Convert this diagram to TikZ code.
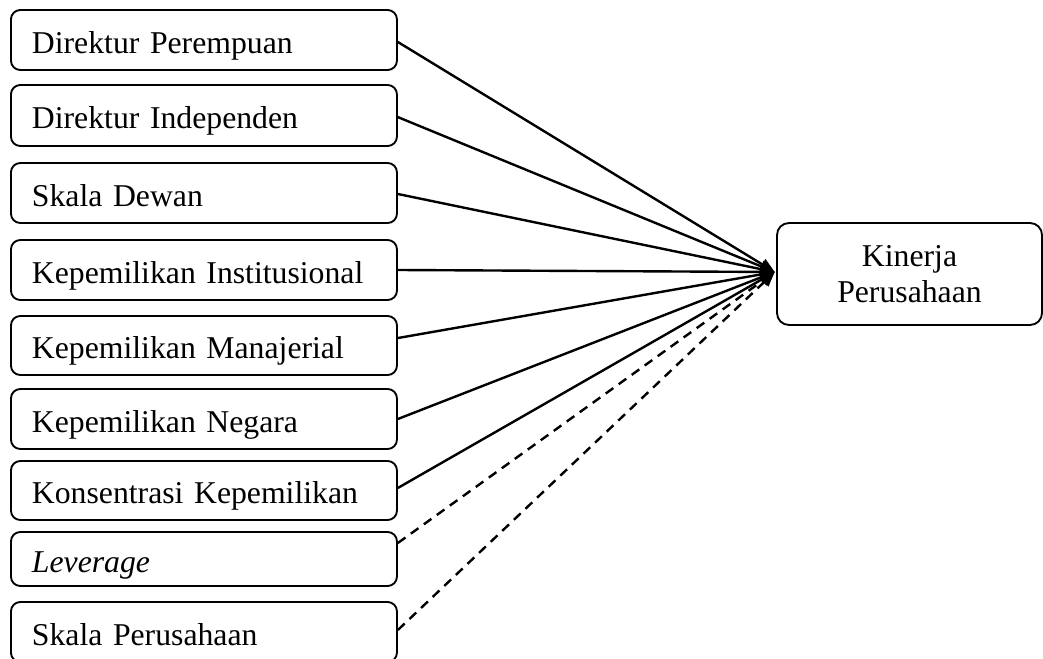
\documentclass[tikz,border=0pt]{standalone}
\usepackage{fontspec}
\setmainfont{Liberation Serif}
\usetikzlibrary{arrows.meta}
\begin{document}
\begin{tikzpicture}[x=0.75pt,y=-0.75pt,
  fnt/.style={font=\fontsize{23.8pt}{27.5pt}\selectfont},
  varbox/.style={draw,line width=1.4pt,rounded corners=7pt,fnt,anchor=west,
    inner xsep=15.75pt,inner ysep=0pt,text width=258pt,align=left,
    text height=22.4pt,text depth=2.6pt},
  depbox/.style={draw,line width=1.4pt,rounded corners=9pt,fnt,
    minimum width=198.75pt,minimum height=76.5pt,align=center,inner sep=0pt},
  link/.style={line width=1.8pt,-{Triangle[length=11pt,width=9pt]}},
  dlink/.style={link,dash pattern=on 7pt off 5pt}]
\useasboundingbox (0,0) rectangle (1043,659);
\node[varbox,minimum height=45pt]   (b1) at (10,40)    {Direktur Perempuan};
\node[varbox,minimum height=45.75pt](b2) at (10,115.5) {Direktur Independen};
\node[varbox,minimum height=45pt]   (b3) at (10,193)   {Skala Dewan};
\node[varbox,minimum height=45pt]   (b4) at (10,270)   {Kepemilikan Institusional};
\node[varbox,minimum height=44.25pt](b5) at (10,345.5) {Kepemilikan Manajerial};
\node[varbox,minimum height=45pt]   (b6) at (10,419)   {Kepemilikan Negara};
\node[varbox,minimum height=44.25pt](b7) at (10,490.5) {Konsentrasi Kepemilikan};
\node[varbox,minimum height=40.5pt] (b8) at (10,559)   {\textit{Leverage}};
\node[varbox,minimum height=45pt]   (b9) at (10,632)   {Skala Perusahaan};
\node[depbox] (k) at (909.5,274) {Kinerja\\Perusahaan};
\coordinate (tip) at ([xshift=-1pt,yshift=1.5pt]k.west);
\draw[link] ([yshift=-1.5pt]b1.east) -- (tip);
\draw[link] ([yshift=-1.2pt]b2.east) -- (tip);
\draw[link] ([yshift=-0.75pt]b3.east) -- (tip);
\draw[link] (b4.east) -- (tip);
\draw[link] ([yshift=5.6pt]b5.east) -- (tip);
\draw[link] (b6.east) -- (tip);
\draw[link] ([yshift=1.9pt]b7.east) -- (tip);
\draw[dlink] ([yshift=12pt]b8.east) -- (tip);
\draw[dlink] ([yshift=1.5pt]b9.east) -- (tip);
\end{tikzpicture}
\end{document}
